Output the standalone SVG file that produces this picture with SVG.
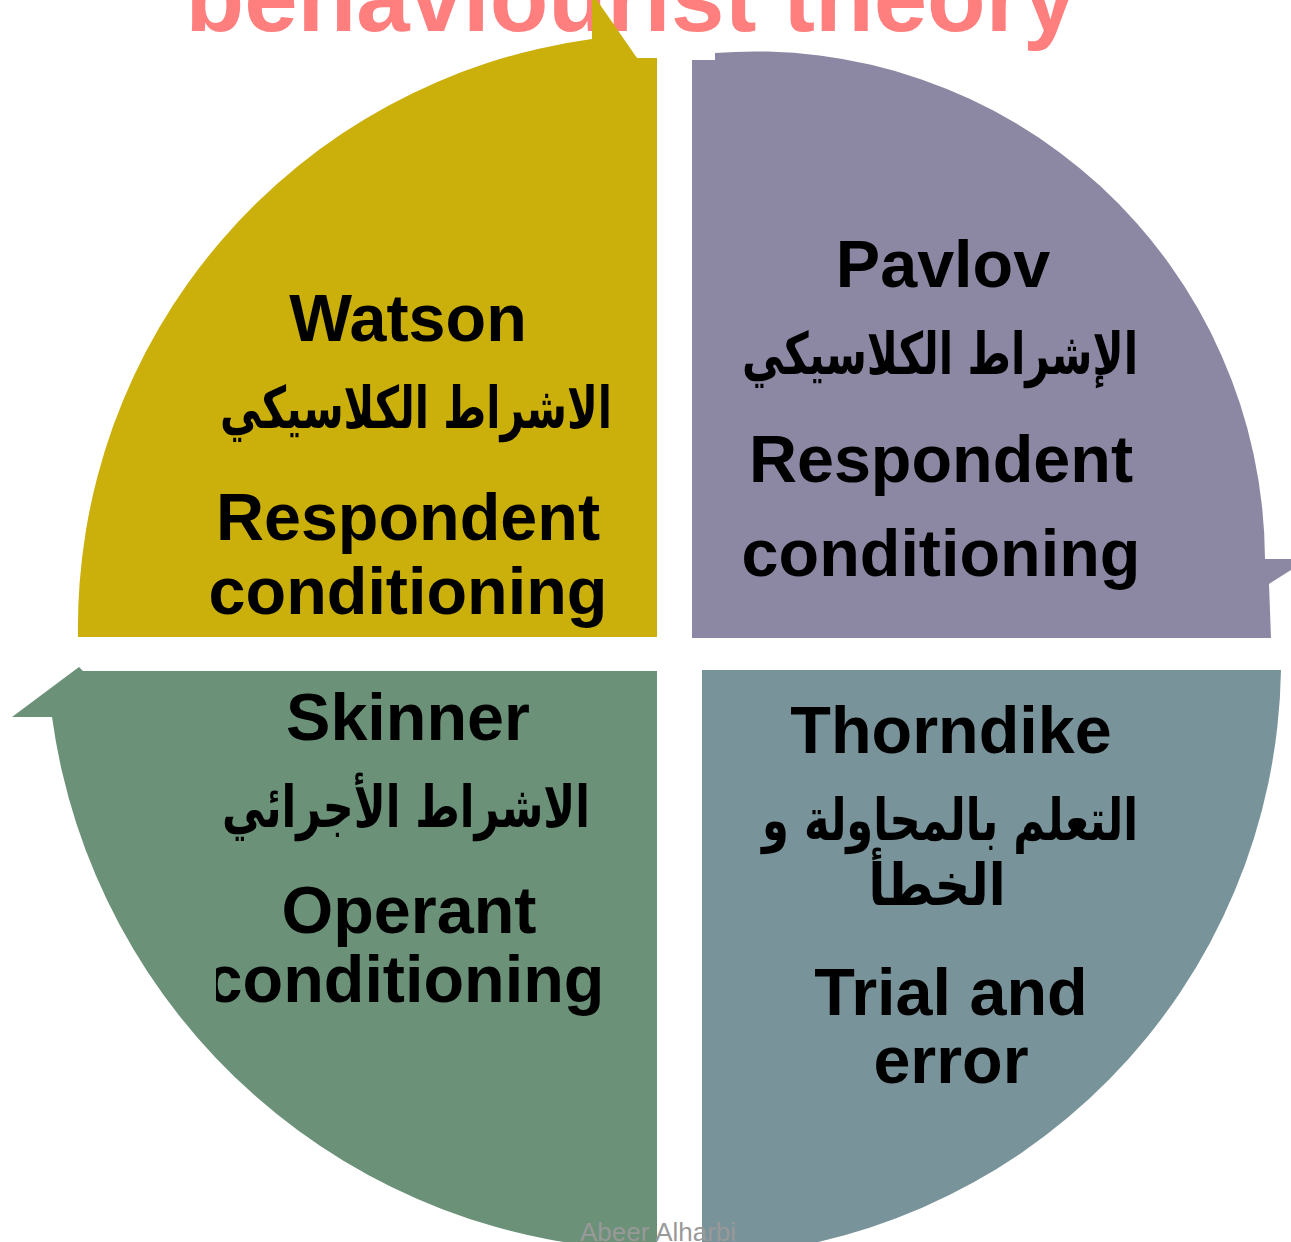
<svg xmlns="http://www.w3.org/2000/svg" width="1291" height="1242" viewBox="0 0 1291 1242">
<style>
.en{font-family:"Liberation Sans",Arial,sans-serif;font-weight:bold;font-size:66.5px;fill:#000;text-anchor:middle}
.ar{font-family:"DejaVu Sans","Noto Sans",sans-serif;font-weight:bold;font-size:58px;fill:#000;text-anchor:middle}
.title{font-family:"Liberation Sans",Arial,sans-serif;font-weight:bold;font-size:96px;fill:#FF7F7F;text-anchor:middle}
.wm{font-family:"Liberation Sans",Arial,sans-serif;font-size:26px;fill:#999999}
</style>
<defs>
<clipPath id="clipG"><rect x="216" y="900" width="500" height="200"/></clipPath>
</defs>
<rect width="1291" height="1242" fill="#FFFFFF"/>
<text class="title" x="631" y="31">behaviourist theory</text>
<g id="connectors"></g>
<g id="watson">
<path d="M657,637 L78,637 A594,594 0 0 1 592,39 L592,-7 L637,58 L657,58 Z" fill="#CBAF0B"/>
<text class="en" x="408" y="341">Watson</text>
<text class="ar" x="416" y="428" textLength="392" lengthAdjust="spacingAndGlyphs">الاشراط الكلاسيكي</text>
<text class="en" x="408" y="540">Respondent</text>
<text class="en" x="408" y="614">conditioning</text>
</g>
<g id="pavlov">
<path d="M692,638 L692,60 L715,60 L715,53 A510,510 0 0 1 1265,559 L1308,559 L1269,584 L1271,638 Z" fill="#8C88A4"/>
<text class="en" x="943" y="287">Pavlov</text>
<text class="ar" x="940" y="374" textLength="396" lengthAdjust="spacingAndGlyphs">الإشراط الكلاسيكي</text>
<text class="en" x="941" y="482">Respondent</text>
<text class="en" x="941" y="576">conditioning</text>
</g>
<g id="thorndike">
<path d="M702,670 L1281,670 A597,597 0 0 1 702,1257 Z" fill="#79939A"/>
<text class="en" x="951" y="753">Thorndike</text>
<text class="ar" x="950" y="840" textLength="376" lengthAdjust="spacingAndGlyphs">التعلم بالمحاولة و</text>
<text class="ar" x="937" y="905" textLength="137" lengthAdjust="spacingAndGlyphs">الخطأ</text>
<text class="en" x="951" y="1015">Trial and</text>
<text class="en" x="951" y="1083">error</text>
</g>
<g id="skinner">
<path d="M657,671 L83,671 L79,667 L12,717 L52,717 A617,617 0 0 0 657,1250 Z" fill="#6B9178"/>
<text class="en" x="408" y="740">Skinner</text>
<text class="ar" x="406" y="827" textLength="368" lengthAdjust="spacingAndGlyphs">الاشراط الأجرائي</text>
<text class="en" x="409" y="933">Operant</text>
<text class="en" x="405" y="1002" clip-path="url(#clipG)">conditioning</text>
</g>
<text class="wm" x="580" y="1241">Abeer Alharbi</text>
</svg>
